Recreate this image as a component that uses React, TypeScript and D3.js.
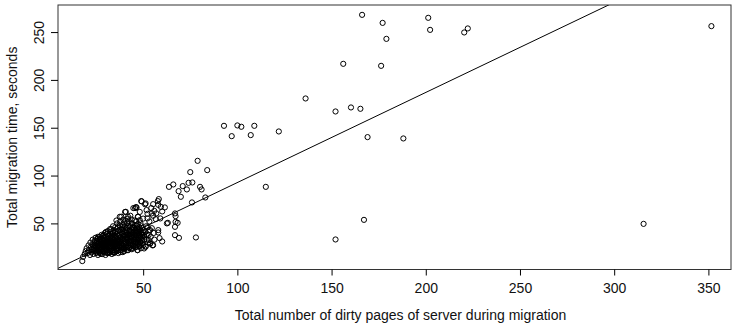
import * as d3 from "d3";
import { useEffect, useRef } from "react";

// dense cluster of small migrations (dirty pages, seconds)
const clusterPoints: [number, number][] = [
  [17.7, 10.6], [18.1, 15], [19, 18], [19.5, 21], [20, 24], [20.5, 19], [21, 27], [21.2, 22], [21.8, 17], [22, 30], [22.3, 25], [22.6, 20],
  [23, 28], [23.2, 33], [23.5, 18], [23.8, 24], [24, 21], [24.2, 30], [24.5, 27], [24.7, 35], [25, 19], [25.2, 23], [25.4, 32], [25.6, 26], [25.8, 29], [26, 17], [26, 36], [26.2, 21],
  [26.5, 31], [26.7, 24], [26.9, 27], [27.1, 19], [27.3, 34], [27.5, 22], [27.7, 29], [27.9, 38], [28.1, 25], [28.3, 32], [28.5, 18], [28.7, 27], [28.9, 35], [29.1, 21], [29.3, 30], [29.5, 24], [29.7, 40], [29.9, 33], [30, 17], [30.2, 28],
  [30.4, 36], [30.6, 22], [30.8, 31], [31, 26], [31.2, 42], [31.4, 19], [31.6, 34], [31.8, 29], [32, 24], [32.2, 38], [32.4, 21], [32.6, 32], [32.8, 27], [33, 44], [33.2, 35], [33.4, 18], [33.6, 30], [33.8, 25], [34, 40], [34.2, 33], [34.4, 22], [34.6, 28],
  [34.8, 37], [35, 20], [35.2, 46], [35.4, 31], [35.6, 26], [35.8, 53], [36, 35], [36.2, 23], [36.4, 29], [36.6, 42], [36.8, 19], [37, 33], [37.2, 38], [37.4, 25], [37.6, 48], [37.8, 31], [38, 22], [38.2, 36], [38.4, 57], [38.6, 27],
  [38.8, 44], [39, 34], [39.2, 20], [39.4, 39], [39.6, 29], [39.8, 51], [40, 24], [40.2, 36], [40.4, 62], [40.6, 31], [40.8, 45], [41, 27], [41.2, 40], [41.4, 22], [41.6, 34], [41.8, 55], [42, 29], [42.2, 47], [42.4, 38],
  [42.6, 25], [42.8, 32], [43, 43], [43.2, 58], [43.4, 27], [43.6, 36], [43.8, 50], [44, 23], [44.2, 40], [44.4, 31], [44.6, 46], [44.8, 66], [45, 28], [45.2, 37], [45.4, 53], [45.6, 34], [45.8, 25], [46, 43], [46.2, 67],
  [46.4, 30], [46.6, 48], [46.8, 38], [47, 22], [47.2, 57], [47.4, 33], [47.6, 44], [47.8, 27], [48, 39], [48.2, 62], [48.4, 31], [48.6, 50], [48.8, 24], [49, 36], [49.2, 73], [49.4, 45], [49.6, 29], [49.8, 41], [50, 55],
  [50.5, 33], [51, 70], [51.3, 26], [51.6, 47], [52, 38], [52.3, 60], [52.6, 30], [53, 43], [53.3, 52], [53.7, 29], [54, 36], [54.3, 66], [54.6, 45], [55, 27], [55.3, 58], [55.6, 40], [56, 33],
];

// more points inside the core of the cluster
const corePoints: [number, number][] = [
  [24.1, 25], [24.9, 29], [25.7, 22], [26.3, 27], [26.8, 33], [27.2, 26], [27.8, 23], [28.2, 29], [28.8, 31], [29.2, 26], [29.6, 36], [30.1, 23], [30.5, 26], [30.9, 34], [31.3, 30], [31.7, 25], [32.1, 28], [32.5, 35], [32.9, 23], [33.3, 31], [33.7, 27], [34.1, 36], [34.5, 30], [34.9, 25], [35.3, 34], [35.7, 29], [36.1, 39], [36.5, 24], [36.9, 30], [37.3, 27], [37.7, 35], [38.1, 30], [38.5, 40], [38.9, 26], [39.3, 33], [39.7, 37], [40.1, 28], [40.5, 41], [40.9, 33], [41.3, 30], [41.7, 38], [42.1, 35], [42.5, 42], [42.9, 28], [43.3, 39], [43.7, 32], [44.1, 36], [44.5, 27], [44.9, 41], [45.3, 31], [45.7, 38], [46.1, 35], [46.5, 27], [46.9, 42], [47.3, 30], [47.7, 37], [48.1, 34], [48.5, 28], [48.9, 40], [49.3, 32],
  [25.1, 26], [26.1, 24], [27.4, 31], [28.4, 21], [29.4, 28], [30.3, 31], [31.1, 22], [32.3, 26], [33.1, 37], [33.9, 29], [34.7, 33], [35.5, 23], [36.3, 32], [37.1, 29], [37.9, 41], [38.7, 34], [39.5, 25], [40.3, 34], [41.1, 43], [41.9, 26], [42.7, 37], [43.5, 34], [44.3, 44], [45.1, 33], [45.9, 29], [46.7, 40], [47.5, 35], [48.3, 43], [22.8, 23], [23.6, 27], [28.6, 37], [30.7, 39], [32.7, 41], [34.3, 43], [36.7, 46], [39.1, 48], [41.5, 50], [43.9, 54], [46.3, 52],
  [30, 20], [32, 19], [34, 20], [36, 21], [38, 20], [40, 21], [42, 22], [44, 24], [46, 25], [48, 26], [50, 27],
];

// even more overlap where the reference blob is solid
const densePoints: [number, number][] = [
  [23.4, 22], [24.4, 32], [25.3, 20], [25.9, 34], [26.6, 20], [27, 36], [27.6, 18], [28, 34], [28.9, 20], [29, 38], [29.8, 22], [30.2, 41], [30.9, 19], [31.5, 37], [31.9, 20], [32.4, 44], [33.2, 21], [33.5, 39], [34, 47], [34.6, 19],
  [35.1, 41], [35.9, 44], [36.2, 50], [36.9, 22], [37.4, 43], [37.8, 52], [38.3, 24], [38.8, 46], [39.4, 54], [39.9, 23], [40.2, 47], [40.7, 53], [41.2, 25], [41.6, 45], [42.3, 52], [42.8, 24], [43.1, 47], [43.7, 41], [44.2, 50], [44.7, 26],
  [45.2, 45], [45.5, 48], [46, 31], [46.6, 45], [47.1, 49], [47.4, 40], [47.9, 46], [48.4, 37], [48.7, 33], [49.1, 47], [49.6, 38], [50.2, 43], [50.8, 36], [51.2, 41], [51.9, 33], [52.4, 46], [27.3, 28], [29.1, 33], [31.4, 27], [33.6, 33],
  [35.8, 36], [37.5, 32], [39.6, 42], [41.4, 36], [43.4, 29], [45.4, 42], [47.2, 29], [26.4, 29], [28.3, 24], [30.4, 29], [32.6, 30], [34.8, 28], [36.4, 27], [38.4, 28], [40.6, 38], [42.4, 31], [44.6, 38], [46.2, 37], [48.6, 30], [50.3, 38],
];

// scattered points between 40 and 85 pages
const midPoints: [number, number][] = [
  [78.9, 115.4], [84, 105.7], [75, 103.6], [66, 90.7], [63.7, 88.2], [71, 89], [74.1, 92.4], [76.1, 92.8], [73.2, 85.5], [68.8, 83.7], [80.2, 88.2], [81, 85.5], [70, 77.8], [83, 77.1], [75.9, 71.9],
  [66.9, 60.4], [67.2, 57.6], [63.1, 50.6], [67.2, 51.6], [68.3, 50.6], [66.9, 46.4], [66.9, 37.7], [69, 34.9], [78, 35.3], [58.3, 75.4],
  [49, 73.3], [51.3, 70.9], [55.3, 70.1], [57.8, 73.3], [58, 69.4], [59.4, 67.3], [61.5, 66.7], [55.9, 63.1], [54.5, 60.4], [57, 60.4], [60.1, 62.5], [46.5, 66.7], [45.7, 66], [51.8, 63.9],
  [40.8, 62.1], [37.6, 56.9], [42, 56.9], [47.3, 56.9], [48.2, 53.4], [52.3, 55.2], [56.7, 54.5], [59.1, 55.2], [62.6, 50], [58, 43], [58, 40.5], [58.7, 34.6], [60.1, 31.1],
  [55.3, 27.3], [53.7, 29], [51.3, 25.5], [47, 22.1], [50.5, 23.8], [53, 32.5], [53.7, 43], [52.9, 37.8],
];

// large migrations
const highPoints: [number, number][] = [
  [92.9, 152], [100, 152.4], [102.1, 151], [109, 152], [97, 141.2], [107.1, 142.3], [122, 146.1], [115.1, 88.2], [136.2, 180.6],
  [152.1, 167], [160.3, 171.2], [165.3, 169.8], [169.1, 140.2], [188.1, 138.8], [156.2, 216.8], [176.3, 214.7],
  [166.2, 268], [177.1, 259.6], [201.3, 264.9], [202.3, 252.3], [179.1, 242.9], [220.4, 249.6], [222.3, 253.8],
  [167.2, 53.7], [152.1, 33.2], [351.6, 256.2], [315.6, 49.5],
];

const xTicks = [50, 100, 150, 200, 250, 300, 350];
const yTicks = [50, 100, 150, 200, 250];
const fitLine = { intercept: -1.5, slope: 0.942 };

const App = () => {
  const ref = useRef<SVGSVGElement>(null);

  useEffect(() => {
    const svg = d3.select(ref.current);
    svg.selectAll("*").remove();

    const left = 58, right = 731, top = 5, bottom = 269.5;
    const font = "'Liberation Sans', Arial, Helvetica, sans-serif";

    const x = d3.scaleLinear().domain([4.8, 362]).range([left, right]);
    const y = d3.scaleLinear().domain([1.8, 278.3]).range([bottom, top]);

    svg.append("defs").append("clipPath").attr("id", "plotclip")
      .append("rect").attr("x", left).attr("y", top)
      .attr("width", right - left).attr("height", bottom - top);

    // points
    const all = [...clusterPoints, ...corePoints, ...densePoints, ...midPoints, ...highPoints];
    svg.append("g")
      .selectAll("circle")
      .data(all)
      .enter()
      .append("circle")
      .attr("cx", d => x(d[0]))
      .attr("cy", d => y(d[1]))
      .attr("r", 2.6)
      .attr("fill", "none")
      .attr("stroke", "#000")
      .attr("stroke-width", 1);

    // regression line (abline)
    const [x0, x1] = x.domain();
    svg.append("line")
      .attr("clip-path", "url(#plotclip)")
      .attr("x1", x(x0)).attr("y1", y(fitLine.intercept + fitLine.slope * x0))
      .attr("x2", x(x1)).attr("y2", y(fitLine.intercept + fitLine.slope * x1))
      .attr("stroke", "#000")
      .attr("stroke-width", 1);

    // box
    svg.append("rect")
      .attr("x", left).attr("y", top)
      .attr("width", right - left).attr("height", bottom - top)
      .attr("fill", "none")
      .attr("stroke", "#333")
      .attr("stroke-width", 1);

    // x axis
    const gx = svg.append("g")
      .attr("transform", `translate(0,${bottom})`)
      .call(d3.axisBottom(x).tickValues(xTicks).tickSize(6).tickPadding(8).tickFormat(d3.format("d")));
    gx.select(".domain").remove();
    gx.selectAll("text").style("font-family", font).style("font-size", "14px").attr("fill", "#111");

    // y axis
    const gy = svg.append("g")
      .attr("transform", `translate(${left},0)`)
      .call(d3.axisLeft(y).tickValues(yTicks).tickSize(7).tickFormat(d3.format("d")));
    gy.select(".domain").remove();
    gy.selectAll("text")
      .attr("x", 0).attr("y", 0).attr("dy", 0)
      .attr("transform", "translate(-14,0) rotate(-90)")
      .style("text-anchor", "middle")
      .style("font-family", font).style("font-size", "14px").attr("fill", "#111");

    // axis titles
    svg.append("text")
      .attr("x", (left + right) / 2 + 6)
      .attr("y", 320)
      .style("text-anchor", "middle")
      .style("font-family", font).style("font-size", "14px").attr("fill", "#111")
      .text("Total number of dirty pages of server during migration");

    svg.append("text")
      .attr("transform", `translate(17,${(top + bottom) / 2}) rotate(-90)`)
      .style("text-anchor", "middle")
      .style("font-family", font).style("font-size", "14px").attr("fill", "#111")
      .text("Total migration time, seconds");
  }, []);

  return (
    <svg ref={ref} width="733" height="325"
      style={{ position: "absolute", left: 0, top: 0, background: "#fff" }} />
  );
};

export default App;
